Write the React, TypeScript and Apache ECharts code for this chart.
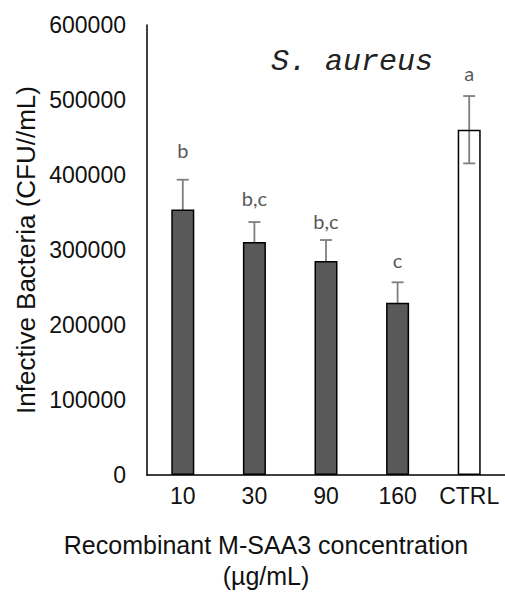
import React, { useEffect, useRef } from "react";
import * as echarts from "echarts";

const categories = ["10", "30", "90", "160", "CTRL"];
const means = [354000, 310700, 285300, 229700, 460400];
const errors = [39700, 26600, 28000, 27200, 44900];
const groupLetters = ["b", "b,c", "b,c", "c", "a"];
const letterPositions = [433000, 370000, 339000, 287000, 536000];
const yTicks = [0, 100000, 200000, 300000, 400000, 500000, 600000];

export default function App() {
  const ref = useRef<HTMLDivElement>(null);
  useEffect(() => {
    if (!ref.current) return;
    const chart = echarts.init(ref.current, null, { renderer: "svg" });
    const barData = means.map((v, i) => ({
      value: v,
      itemStyle: {
        color: categories[i] === "CTRL" ? "rgba(255,255,255,0)" : "#595959",
        borderColor: "#000000",
        borderWidth: 1.5,
      },
    }));
    const errData = means.map((v, i) => [i, v, errors[i], letterPositions[i]]);
    chart.setOption({
      animation: false,
      grid: { left: 147, top: 25, right: -3, bottom: 117 },
      xAxis: {
        type: "category",
        data: categories,
        axisLine: { lineStyle: { color: "#000000", width: 1.5 } },
        axisTick: { show: false },
        axisLabel: {
          interval: 0,
          color: "#111111",
          fontSize: 23,
          fontFamily: "Liberation Sans, Arial, sans-serif",
          margin: 9,
        },
      },
      yAxis: {
        type: "value",
        min: yTicks[0],
        max: yTicks[yTicks.length - 1],
        interval: 100000,
        axisLine: { show: true, lineStyle: { color: "#000000", width: 1.5 } },
        axisTick: { show: false },
        splitLine: { show: false },
        axisLabel: {
          color: "#111111",
          fontSize: 23,
          fontFamily: "Liberation Sans, Arial, sans-serif",
          margin: 21,
          formatter: (v: number) => String(v),
        },
      },
      series: [
        {
          type: "custom",
          z: 1,
          data: errData,
          renderItem: (params: any, api: any) => {
            const idx = api.value(0);
            const v = api.value(1);
            const e = api.value(2);
            const lp = api.value(3);
            const top = api.coord([idx, v + e]);
            const bot = api.coord([idx, v - e]);
            const lab = api.coord([idx, lp]);
            const half = 6;
            const style = { stroke: "#7f7f7f", lineWidth: 1.8 };
            return {
              type: "group",
              children: [
                { type: "line", shape: { x1: top[0], y1: top[1], x2: bot[0], y2: bot[1] }, style },
                { type: "line", shape: { x1: top[0] - half, y1: top[1], x2: top[0] + half, y2: top[1] }, style },
                { type: "line", shape: { x1: bot[0] - half, y1: bot[1], x2: bot[0] + half, y2: bot[1] }, style },
                {
                  type: "text",
                  style: {
                    x: lab[0],
                    y: lab[1],
                    text: groupLetters[params.dataIndex],
                    fill: "#595959",
                    fontSize: 20,
                    fontFamily: "Lato, 'Open Sans', sans-serif",
                    align: "center",
                    verticalAlign: "middle",
                  },
                },
              ],
            };
          },
        },
        {
          type: "bar",
          z: 2,
          data: barData,
          barWidth: 23,
        },
      ],
      graphic: [
        {
          type: "text",
          x: 352,
          y: 62,
          style: {
            text: "S. aureus",
            fontFamily: "'Liberation Mono', 'Courier New', monospace",
            fontStyle: "italic",
            fontSize: 30,
            fill: "#222222",
            align: "center",
            verticalAlign: "middle",
          },
        },
        {
          type: "text",
          x: 26,
          y: 250,
          rotation: Math.PI / 2,
          style: {
            text: "Infective Bacteria (CFU//mL)",
            fontFamily: "Liberation Sans, Arial, sans-serif",
            fontSize: 26,
            fill: "#111111",
            align: "center",
            verticalAlign: "middle",
          },
        },
        {
          type: "text",
          x: 266,
          y: 545,
          style: {
            text: "Recombinant M-SAA3 concentration",
            fontFamily: "Liberation Sans, Arial, sans-serif",
            fontSize: 25,
            fill: "#111111",
            align: "center",
            verticalAlign: "middle",
          },
        },
        {
          type: "text",
          x: 266,
          y: 576,
          style: {
            text: "(µg/mL)",
            fontFamily: "Liberation Sans, Arial, sans-serif",
            fontSize: 25,
            fill: "#111111",
            align: "center",
            verticalAlign: "middle",
          },
        },
      ],
    });
    return () => chart.dispose();
  }, []);
  return <div ref={ref} style={{ width: 505, height: 592, position: "absolute", left: 0, top: 0 }} />;
}
